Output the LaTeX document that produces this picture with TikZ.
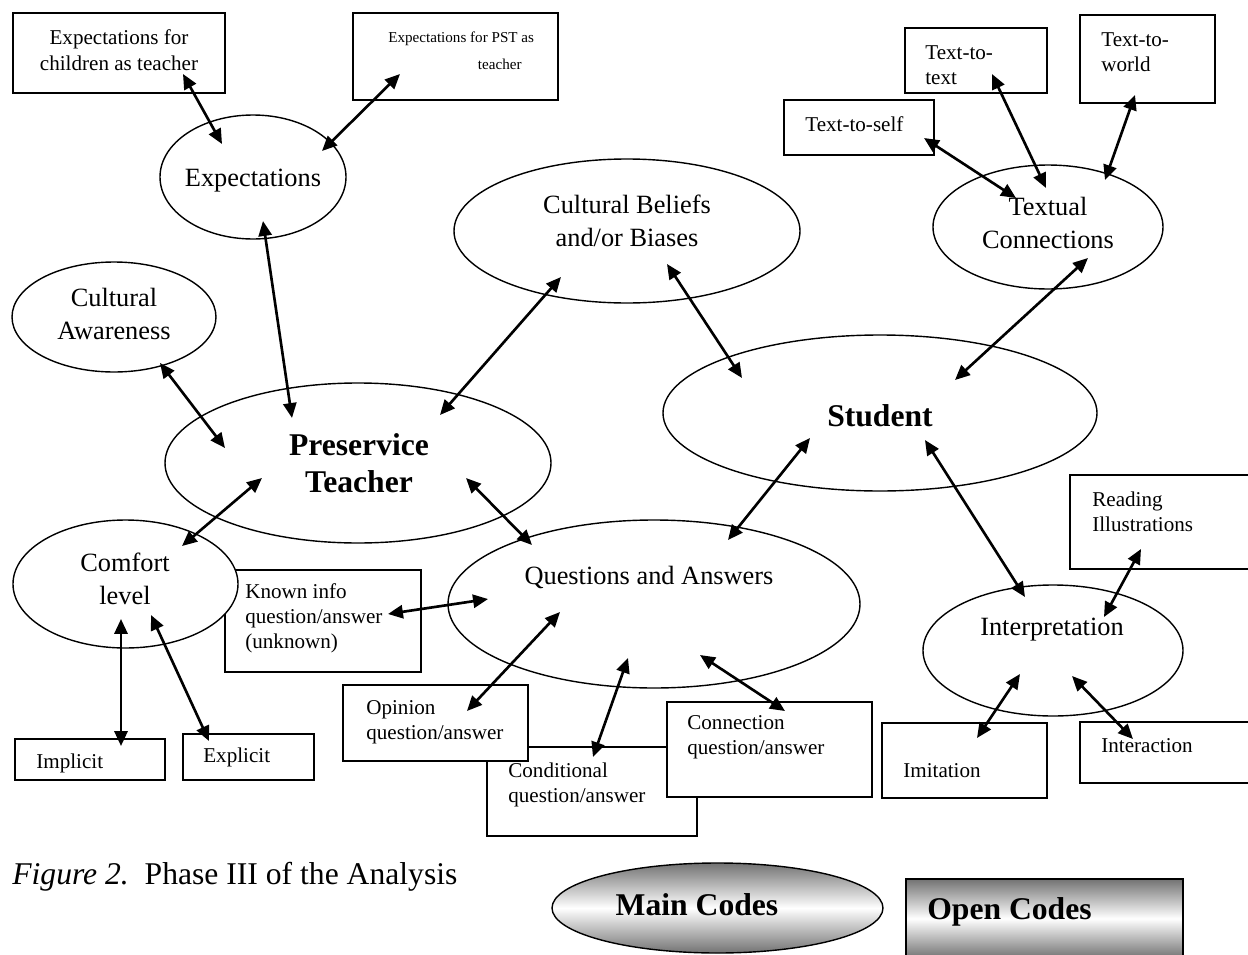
\documentclass[tikz,border=0pt]{standalone}
\usepackage{fontspec}
\setmainfont{Liberation Serif}
\usetikzlibrary{shapes.geometric,arrows.meta,calc}
\newcommand\pu{0.2mm}
\begin{document}
\begin{tikzpicture}[x=0.2mm,y=-0.2mm,
  box/.style={draw, line width=0.9pt, fill=white, rectangle, inner sep=0pt},
  oval/.style={draw, line width=0.8pt, fill=white, ellipse, inner sep=0pt},
  small/.style={font=\fontsize{12}{14.2}\selectfont, align=left, inner sep=0pt, anchor=west},
  smallc/.style={font=\fontsize{12}{14.6}\selectfont, align=center, inner sep=0pt},
  mid/.style={font=\fontsize{15}{18.7}\selectfont, align=center, inner sep=0pt},
  big/.style={font=\fontsize{18}{21}\selectfont\bfseries, align=center, inner sep=0pt},
  arr/.style={line width=1.5pt, {Triangle[length=8.5pt,width=7.5pt]}-{Triangle[length=8.5pt,width=7.5pt]}},
  shadeg/.style={top color=black!55, bottom color=black!55, middle color=white}
]
\path[use as bounding box] (0,0) rectangle (1248,955);
\clip (0,0) rectangle (1248,955);

% ---------- boxes ----------
\node[box, minimum width=212*\pu, minimum height=80*\pu] (bchild) at (119,53) {};
\node[box, minimum width=205*\pu, minimum height=87*\pu] (bpst) at (455.5,56.5) {};
\node[box, minimum width=142*\pu, minimum height=65*\pu] (bttext) at (976,60.5) {};
\node[box, minimum width=135*\pu, minimum height=88*\pu] (btworld) at (1147.5,59) {};
\node[box, minimum width=150*\pu, minimum height=55*\pu] (btself) at (859,127.5) {};
\node[box, minimum width=196*\pu, minimum height=102*\pu] (bknown) at (323,621) {};
\node[box, minimum width=150*\pu, minimum height=41*\pu] (bimpl) at (90,759.5) {};
\node[box, minimum width=131*\pu, minimum height=46*\pu] (bexpl) at (248.5,757) {};
\node[box, minimum width=210*\pu, minimum height=89*\pu] (bcond) at (592,791.5) {};
\node[box, minimum width=185*\pu, minimum height=76*\pu] (bopin) at (435.5,723) {};
\node[box, minimum width=205*\pu, minimum height=95*\pu] (bconn) at (769.5,749.5) {};
\node[box, minimum width=192*\pu, minimum height=94*\pu] (bread) at (1166,522) {};
\node[box, minimum width=165*\pu, minimum height=75*\pu] (bimit) at (964.5,760.5) {};
\node[box, minimum width=182*\pu, minimum height=61*\pu] (binter) at (1171,752.5) {};

% ---------- ellipses ----------
\node[oval, minimum width=186*\pu, minimum height=124*\pu] (eexp) at (253,177) {};
\node[oval, minimum width=204*\pu, minimum height=110*\pu] (eca) at (114,317) {};
\node[oval, minimum width=346*\pu, minimum height=144*\pu] (ecb) at (627,231) {};
\node[oval, minimum width=230*\pu, minimum height=124*\pu] (etc) at (1048,227) {};
\node[oval, minimum width=434*\pu, minimum height=156*\pu] (estu) at (880,413) {};
\node[oval, minimum width=386*\pu, minimum height=160*\pu] (epst) at (358,463) {};
\node[oval, minimum width=225*\pu, minimum height=128*\pu] (ecom) at (125.5,584) {};
\node[oval, minimum width=412*\pu, minimum height=168*\pu] (eqa) at (654,604) {};
\node[oval, minimum width=260*\pu, minimum height=131*\pu] (eint) at (1053,650.5) {};

% ---------- texts ----------
\node[smallc] (tchild) at (119,50) {Expectations for\\children as teacher};
\node[small, font=\fontsize{8.6}{15.3}\selectfont] (tpst) at (388,50.5) {Expectations for PST as\\\hspace*{51pt}teacher};
\node[small] (tttext) at (925,65) {Text-to-\\text};
\node[small] (ttworld) at (1101,52) {Text-to-\\world};
\node[small] (ttself) at (805,124) {Text-to-self};
\node[small] (tknown) at (245,618) {Known info\\question/answer\\(unknown)};
\node[small] (timpl) at (36,763) {Implicit};
\node[small] (texpl) at (203,757) {Explicit};
\node[small] (topin) at (366,722) {Opinion\\question/answer};
\node[small] (tcond) at (508,784.5) {Conditional\\question/answer};
\node[small] (tconn) at (687,737.5) {Connection\\question/answer};
\node[small] (tread) at (1092,511.5) {Reading\\Illustrations};
\node[small] (timit) at (903,771) {Imitation};
\node[small] (tinter) at (1101,746) {Interaction};

\node[mid] (texp) at (253,181) {Expectations};
\node[mid] (tca) at (114,314) {Cultural\\Awareness};
\node[mid] (tcb) at (627,221) {Cultural Beliefs\\and/or Biases};
\node[mid] (ttc) at (1048,223) {Textual\\Connections};
\node[big] (tstu) at (880,416) {Student};
\node[big] (tpstt) at (359,463) {Preservice\\Teacher};
\node[mid] (tcom) at (125,579) {Comfort\\level};
\node[mid] (tqa) at (649,577) {Questions and Answers};
\node[mid] (tint) at (1052,630) {Interpretation};

% ---------- arrows ----------
\draw[arr] ($(bchild)+(64,21)$) -- ($(eexp)+(-31,-33)$);
\draw[arr] ($(bpst)+(-55.5,17.5)$) -- ($(eexp)+(69,-26)$);
\draw[arr] ($(eexp)+(10,44)$) -- ($(epst)+(-66,-45)$);
\draw[arr] ($(eca)+(46,46)$) -- ($(epst)+(-133,-15)$);
\draw[arr] ($(ecb)+(-66,46)$) -- ($(epst)+(82,-48)$);
\draw[arr] ($(ecb)+(40,33)$) -- ($(estu)+(-138,-35)$);
\draw[arr] ($(etc)+(40,31)$) -- ($(estu)+(75,-33)$);
\draw[arr] ($(btself)+(65,10.5)$) -- ($(etc)+(-32,-29)$);
\draw[arr] ($(bttext)+(16,13.5)$) -- ($(etc)+(-2,-39)$);
\draw[arr] ($(btworld)+(-12.5,36)$) -- ($(etc)+(57,-47)$);
\draw[arr] ($(epst)+(-96,15)$) -- ($(ecom)+(56.5,-38)$);
\draw[arr] ($(epst)+(108,15)$) -- ($(eqa)+(-122,-59)$);
\draw[arr] ($(estu)+(-70,25)$) -- ($(eqa)+(74,-64)$);
\draw[arr] ($(estu)+(45,27)$) -- ($(eint)+(-28,-53.5)$);
\draw[arr] ($(bknown)+(65,-7)$) -- ($(eqa)+(-166,-5)$);
\draw[arr] ($(eqa)+(-94,8)$) -- ($(bopin)+(31.5,-12)$);
\draw[arr] ($(eqa)+(-26,54)$) -- ($(bcond)+(1,-34.5)$);
\draw[arr] ($(eqa)+(46,51)$) -- ($(bconn)+(15.5,-38.5)$);
\draw[arr] ($(ecom)+(-4.5,35)$) -- ($(bimpl)+(31,-13.5)$);
\draw[arr] ($(ecom)+(25.5,31)$) -- ($(bexpl)+(-39.5,-16)$);
\draw[arr] ($(bread)+(-25,27)$) -- ($(eint)+(51,-33.5)$);
\draw[arr] ($(eint)+(-33,23.5)$) -- ($(bimit)+(12.5,-22.5)$);
\draw[arr] ($(eint)+(19,25.5)$) -- ($(binter)+(-38,-13.5)$);

% ---------- caption and legend ----------
\node[anchor=west, inner sep=0pt, font=\fontsize{18}{21}\selectfont] (cap) at (12,877) {\textit{Figure 2.}\ \ Phase III of the Analysis};
\node[ellipse, draw, line width=0.8pt, shadeg, minimum width=331*\pu, minimum height=90*\pu, inner sep=0pt] (lmain) at (717.5,908) {};
\node[big] (tmain) at (697,905) {Main Codes};
\node[rectangle, draw, line width=1pt, shadeg, minimum width=277*\pu, minimum height=79*\pu, inner sep=0pt] (lopen) at (1044.5,918.5) {};
\node[big, anchor=west] (topen) at (927,912) {Open Codes};
\end{tikzpicture}
\end{document}
